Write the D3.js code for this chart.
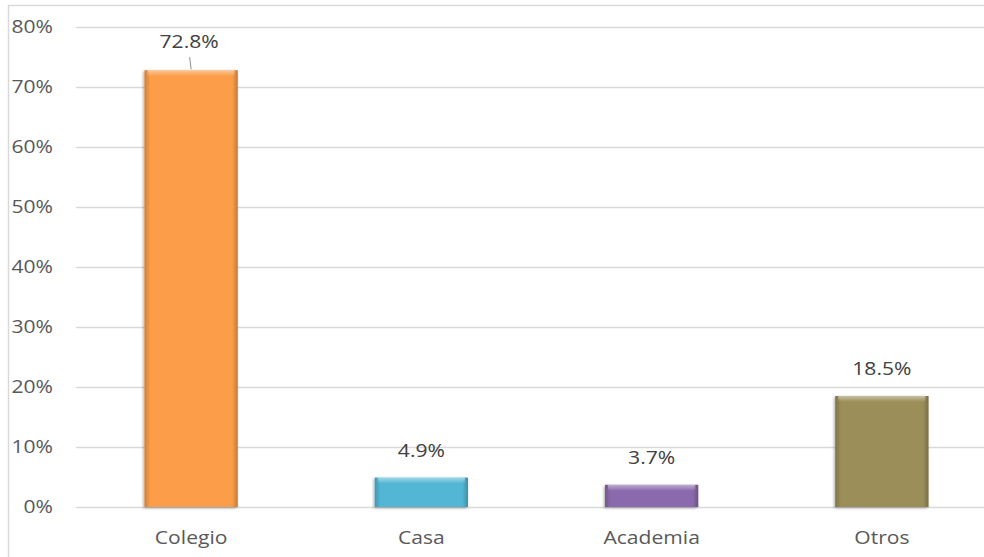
<!DOCTYPE html>
<html lang="es">

<head>
    <title>Lugar de estudio</title>
    <meta charset="utf-8">
    <script src="https://d3js.org/d3.v7.min.js"></script>
    <style>
        html, body { margin: 0; padding: 0; overflow: hidden; background: #fff; }
        svg { display: block; }
        text { font-family: "Open Sans", "Lato", sans-serif; }
    </style>
</head>

<body>
    <div id="container"></div>
    <script>
        // Data
        const categories = ["Colegio", "Casa", "Academia", "Otros"];
        const values = [72.8, 4.9, 3.7, 18.5];
        const colors = ["#fb9d4a", "#52b6d4", "#8a6aac", "#9b8e59"];
        const ticks = [0, 10, 20, 30, 40, 50, 60, 70, 80];

        // Dimensions
        const width = 984, height = 557;
        const margin = { top: 27, right: -13, bottom: 50, left: 76 };
        const fontSize = "18.5px";
        const stretch = 1.14; // the original picture is a bit wider than tall

        const place = (px, py) => `translate(${px},${py}) scale(${stretch},1)`;

        const svg = d3.select("#container").append("svg")
            .attr("width", width)
            .attr("height", height);

        const defs = svg.append("defs");

        const shadow = defs.append("filter").attr("id", "shadow")
            .attr("x", "-20%").attr("y", "-20%").attr("width", "140%").attr("height", "140%");
        shadow.append("feGaussianBlur").attr("in", "SourceAlpha").attr("stdDeviation", 1.5);
        shadow.append("feOffset").attr("dx", -1).attr("dy", 1).attr("result", "off");
        shadow.append("feComponentTransfer").append("feFuncA").attr("type", "linear").attr("slope", 0.35);
        const merge = shadow.append("feMerge");
        merge.append("feMergeNode");
        merge.append("feMergeNode").attr("in", "SourceGraphic");

        // bevel gradients
        const topGrad = defs.append("linearGradient").attr("id", "bevelTop")
            .attr("x1", 0).attr("y1", 0).attr("x2", 0).attr("y2", 1);
        topGrad.append("stop").attr("offset", 0).attr("stop-color", "#fff").attr("stop-opacity", 0.45);
        topGrad.append("stop").attr("offset", 1).attr("stop-color", "#fff").attr("stop-opacity", 0);

        const sideGrad = defs.append("linearGradient").attr("id", "bevelSide")
            .attr("x1", 0).attr("y1", 0).attr("x2", 1).attr("y2", 0);
        sideGrad.append("stop").attr("offset", 0).attr("stop-color", "#000").attr("stop-opacity", 0.18);
        sideGrad.append("stop").attr("offset", 0.06).attr("stop-color", "#000").attr("stop-opacity", 0);
        sideGrad.append("stop").attr("offset", 0.94).attr("stop-color", "#000").attr("stop-opacity", 0);
        sideGrad.append("stop").attr("offset", 1).attr("stop-color", "#000").attr("stop-opacity", 0.22);

        // Scales
        const x = d3.scaleBand()
            .domain(categories)
            .range([margin.left, width - margin.right])
            .paddingInner(0.595)
            .paddingOuter(0.2975);

        const y = d3.scaleLinear()
            .domain([0, 80])
            .range([height - margin.bottom, margin.top]);

        // Outer border
        svg.append("rect")
            .attr("x", 8.5).attr("y", 5.5)
            .attr("width", width + 10).attr("height", height + 10)
            .attr("fill", "none")
            .attr("stroke", "#d9d9d9")
            .attr("stroke-width", 1.5);

        // Gridlines
        svg.append("g")
            .selectAll("line")
            .data(ticks)
            .join("line")
            .attr("x1", margin.left)
            .attr("x2", width)
            .attr("y1", d => Math.round(y(d)) + 0.5)
            .attr("y2", d => Math.round(y(d)) + 0.5)
            .attr("stroke", "#d9d9d9")
            .attr("stroke-width", 1.5);

        // Y axis labels
        svg.append("g")
            .selectAll("text")
            .data(ticks)
            .join("text")
            .attr("transform", d => place(53, y(d)))
            .attr("dy", "0.35em")
            .attr("text-anchor", "end")
            .attr("font-size", fontSize)
            .attr("fill", "#595959")
            .text(d => d + "%");

        // Bars
        const bars = svg.append("g")
            .selectAll("g")
            .data(categories)
            .join("g");

        bars.append("rect")
            .attr("x", d => x(d))
            .attr("y", (d, i) => y(values[i]))
            .attr("width", x.bandwidth())
            .attr("height", (d, i) => y(0) - y(values[i]))
            .attr("fill", (d, i) => colors[i])
            .attr("filter", "url(#shadow)");

        bars.append("rect")
            .attr("x", d => x(d))
            .attr("y", (d, i) => y(values[i]))
            .attr("width", x.bandwidth())
            .attr("height", (d, i) => y(0) - y(values[i]))
            .attr("fill", "url(#bevelSide)");

        bars.append("rect")
            .attr("x", d => x(d) + 3)
            .attr("y", (d, i) => y(values[i]))
            .attr("width", x.bandwidth() - 6)
            .attr("height", (d, i) => Math.min(6, y(0) - y(values[i])))
            .attr("fill", "url(#bevelTop)");

        // Value labels
        svg.append("g")
            .selectAll("text")
            .data(categories)
            .join("text")
            .attr("transform", (d, i) => place(
                x(d) + x.bandwidth() / 2 - (i === 0 ? 2 : 0),
                y(values[i]) - (i === 0 ? 29 : 27)))
            .attr("dy", "0.35em")
            .attr("text-anchor", "middle")
            .attr("font-size", fontSize)
            .attr("fill", "#404040")
            .text((d, i) => values[i].toFixed(1) + "%");

        // leader line for first label
        svg.append("line")
            .attr("x1", x(categories[0]) + x.bandwidth() / 2 - 1.5)
            .attr("y1", y(values[0]) - 13)
            .attr("x2", x(categories[0]) + x.bandwidth() / 2)
            .attr("y2", y(values[0]) - 1)
            .attr("stroke", "#8c8c8c")
            .attr("stroke-width", 1);

        // Category labels
        svg.append("g")
            .selectAll("text")
            .data(categories)
            .join("text")
            .attr("transform", d => place(x(d) + x.bandwidth() / 2, 538))
            .attr("dy", "0.35em")
            .attr("text-anchor", "middle")
            .attr("font-size", fontSize)
            .attr("fill", "#595959")
            .text(d => d);
    </script>
</body>

</html>
